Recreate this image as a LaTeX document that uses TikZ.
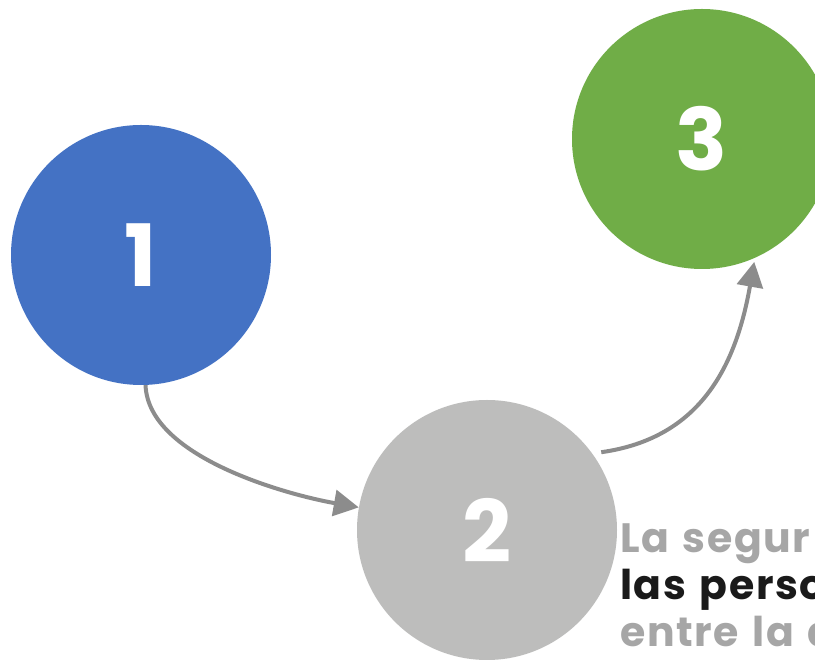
\documentclass[tikz,border=0pt]{standalone}
\usepackage{fontspec}
\setmainfont{Poppins}
\newfontfamily\textofont{Poppins}[LetterSpace=4, WordSpace=1.3]
\usepackage{tikz}
\usetikzlibrary{positioning, arrows.meta}

\definecolor{azul}{HTML}{4472C4}
\definecolor{verde}{HTML}{70AD47}
\definecolor{grisc}{HTML}{BDBDBC}
\definecolor{grisf}{HTML}{8C8C8C}
\definecolor{grist}{HTML}{A6A6A6}
\definecolor{negro}{HTML}{1A1A1A}

\begin{document}
\begin{tikzpicture}[x=1pt, y=1pt,
    paso/.style={circle, minimum size=260pt, inner sep=0pt, text=white, font=\fontsize{86}{86}\selectfont\bfseries},
    flecha/.style={draw=grisf, line width=4pt, -{Triangle[length=25pt, width=26pt]}},
    linea/.style={anchor=base west, inner sep=0pt, font=\fontsize{41}{47}\selectfont\textofont\bfseries}]
    \useasboundingbox (0,0) rectangle (815,661);
    \clip (0,0) rectangle (815,661);
    \fill[white] (0,0) rectangle (815,661);

    \node[paso, fill=azul] (n1) at (141,406) {1};
    \node[paso, fill=grisc] (n2) at (487,131) {2};
    \node[paso, fill=verde] (n3) at (702,522) {3};

    \draw[flecha] (n1.-88) to[out=-88, in=170, looseness=0.75] (n2.170);
    \draw[flecha, shorten <=9pt, shorten >=4pt] (n2.36) to[out=8, in=-100, looseness=1.1] (n3.-66);

    % texto cortado a la derecha
    \node[linea, text=grist] (t1) at (620,108) {La segur};
    \node[linea, text=negro] (t2) at (620,61) {las perso};
    \node[linea, text=grist] (t3) at (620,14) {entre la a};
\end{tikzpicture}
\end{document}
